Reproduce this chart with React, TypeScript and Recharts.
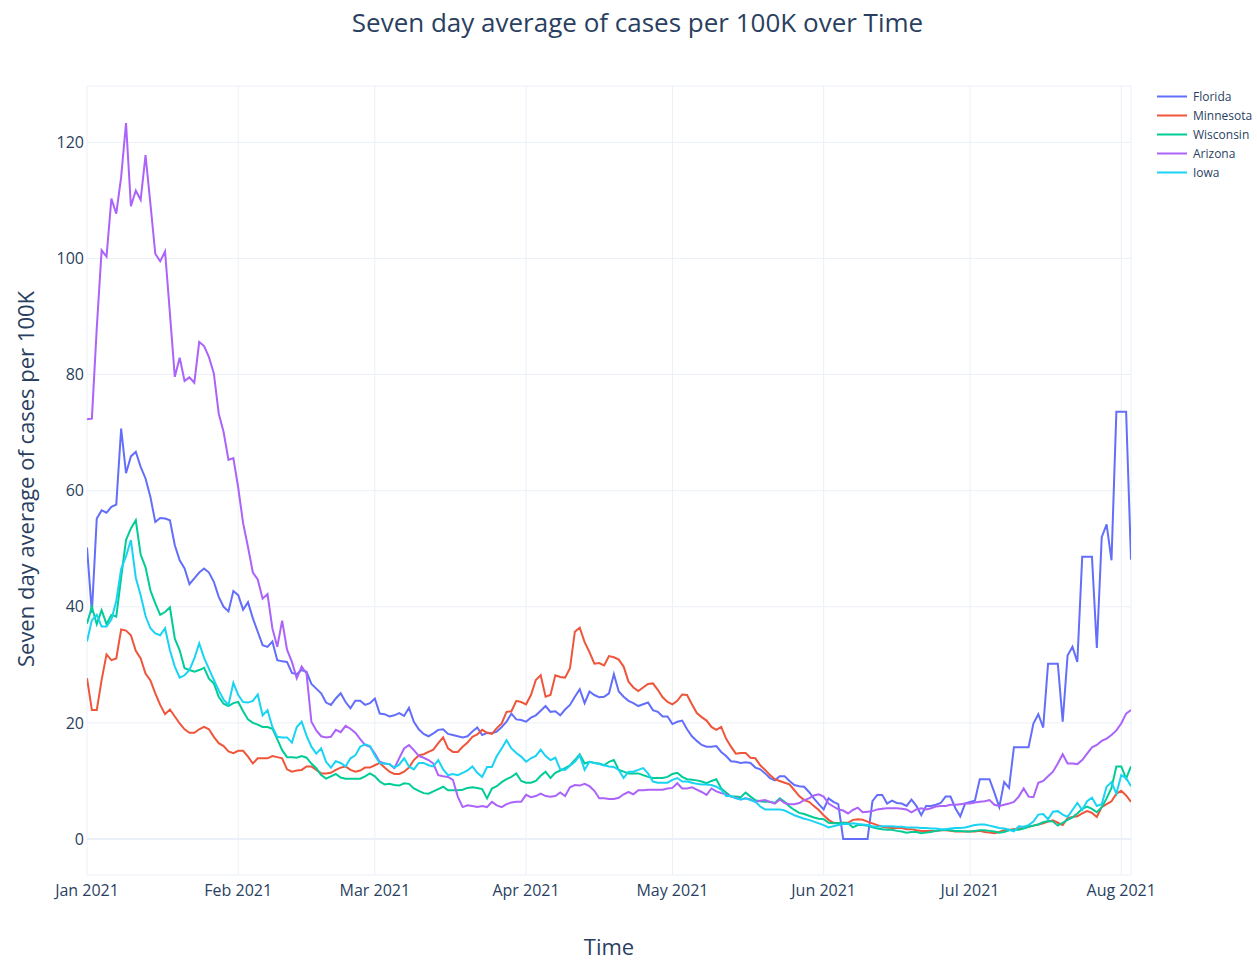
import React from "react";
import { LineChart, Line, XAxis, YAxis, CartesianGrid, ReferenceLine } from "recharts";

// Daily values, Jan 1 2021 (day 0) to Aug 3 2021 (day 214)
const FLORIDA = [
  50.2, 39.0, 55.2, 56.6, 56.2, 57.2, 57.6, 70.7, 63.0, 65.9, 66.7, 64.1, 62.1, 58.9, 54.6, 55.3, 55.2, 54.9, 50.6, 48.0,
  46.6, 43.9, 44.9, 45.9, 46.6, 45.9, 44.3, 41.7, 40.0, 39.2, 42.7, 42.0, 39.5, 40.8, 38.0, 35.7, 33.4, 33.1, 34.0, 30.8,
  30.6, 30.5, 28.6, 28.4, 29.1, 28.8, 26.7, 25.9, 25.1, 23.5, 23.1, 24.2, 25.1, 23.6, 22.5, 23.8, 23.8, 23.1, 23.4, 24.2,
  21.6, 21.5, 21.1, 21.3, 21.7, 21.2, 22.6, 20.2, 18.9, 18.1, 17.7, 18.2, 18.8, 18.9, 18.1, 17.9, 17.7, 17.5, 17.7, 18.5,
  19.2, 17.9, 18.3, 18.2, 18.5, 19.3, 20.2, 21.6, 20.6, 20.5, 20.2, 20.9, 21.3, 22.1, 22.9, 21.9, 22.0, 21.3, 22.3, 23.1,
  24.5, 25.8, 23.4, 25.4, 24.8, 24.4, 24.5, 25.1, 28.4, 25.4, 24.5, 23.8, 23.4, 22.9, 23.2, 23.5, 22.2, 21.9, 21.1, 21.1,
  19.8, 20.2, 20.4, 18.9, 17.7, 16.9, 16.2, 15.9, 15.9, 16.0, 15.0, 14.3, 13.4, 13.3, 13.1, 13.2, 13.1, 12.3, 12.0, 11.3,
  10.5, 10.1, 10.8, 10.8, 10.0, 9.3, 9.1, 9.0, 8.1, 7.0, 6.0, 5.1, 7.0, 6.4, 6.0, 0, 0, 0, 0, 0,
  0, 6.5, 7.6, 7.6, 6.1, 6.6, 6.2, 6.1, 5.7, 6.8, 5.7, 4.1, 5.7, 5.7, 5.9, 6.2, 7.3, 7.3, 5.3, 3.9,
  6.1, 6.4, 6.6, 10.3, 10.3, 10.3, 8.0, 5.5, 9.8, 8.8, 15.8, 15.8, 15.8, 15.8, 19.9, 21.5, 19.2, 30.2, 30.2, 30.2,
  20.2, 31.6, 33.1, 30.5, 48.6, 48.6, 48.6, 32.9, 52.0, 54.2, 48.0, 73.6, 73.6, 73.6, 48.1,
];

const MINNESOTA = [
  27.7, 22.2, 22.2, 27.4, 31.8, 30.8, 31.1, 36.1, 35.9, 35.1, 32.4, 31.1, 28.5, 27.3, 25.1, 23.1, 21.5, 22.3, 21.1, 19.9,
  18.9, 18.3, 18.3, 18.9, 19.3, 18.9, 17.6, 16.5, 16.0, 15.1, 14.8, 15.2, 15.2, 14.2, 13.0, 13.9, 13.9, 13.9, 14.3, 14.1,
  13.9, 12.0, 11.6, 11.8, 11.9, 12.5, 12.5, 11.9, 11.3, 11.3, 11.4, 11.9, 12.3, 12.5, 11.9, 11.6, 11.8, 12.3, 12.3, 12.7,
  13.1, 12.3, 11.6, 11.2, 11.2, 11.6, 12.3, 13.6, 14.4, 14.6, 15.0, 15.4, 16.5, 17.5, 15.6, 15.0, 15.0, 15.9, 16.6, 17.6,
  18.0, 18.8, 18.3, 18.1, 19.1, 19.9, 21.9, 22.0, 23.8, 23.6, 23.2, 24.8, 27.4, 28.2, 24.5, 24.8, 28.2, 27.9, 27.8, 29.4,
  35.7, 36.4, 33.9, 32.2, 30.2, 30.3, 29.9, 31.5, 31.3, 30.9, 29.7, 27.1, 26.1, 25.5, 26.1, 26.7, 26.8, 25.7, 24.4, 23.6,
  23.2, 23.8, 24.9, 24.8, 23.2, 21.7, 21.0, 20.4, 19.3, 18.8, 19.3, 17.3, 15.9, 14.7, 14.8, 14.8, 14.0, 13.9, 12.7, 11.9,
  11.0, 10.3, 10.0, 9.7, 9.4, 8.4, 7.4, 6.7, 6.4, 5.7, 5.0, 4.1, 3.3, 2.8, 2.7, 2.8, 2.8, 3.3, 3.4, 3.3,
  3.0, 2.7, 2.4, 2.1, 2.0, 1.9, 1.9, 1.9, 1.7, 1.7, 1.5, 1.4, 1.4, 1.4, 1.4, 1.5, 1.5, 1.4, 1.3, 1.3,
  1.3, 1.3, 1.3, 1.4, 1.2, 1.1, 1.0, 1.2, 1.5, 1.6, 1.7, 1.8, 1.9, 2.1, 2.3, 2.5, 2.7, 3.0, 3.2, 2.8,
  2.4, 3.6, 3.8, 3.9, 4.4, 4.8, 4.5, 3.8, 5.5, 6.0, 6.5, 7.8, 8.3, 7.5, 6.4,
];

const WISCONSIN = [
  37.1, 40.0, 37.0, 39.4, 37.0, 38.6, 38.3, 45.0, 51.5, 53.5, 54.9, 49.0, 46.8, 42.8, 40.6, 38.6, 39.1, 39.9, 34.5, 32.5,
  29.4, 29.1, 28.8, 29.1, 29.5, 27.6, 26.8, 24.5, 23.3, 22.9, 23.4, 23.6, 22.0, 20.6, 20.0, 19.7, 19.3, 19.3, 19.0, 17.2,
  15.3, 14.1, 14.1, 14.0, 14.3, 14.0, 13.0, 12.2, 11.0, 10.4, 10.8, 11.2, 10.6, 10.4, 10.4, 10.4, 10.4, 10.8, 11.3, 10.8,
  9.9, 9.4, 9.5, 9.3, 9.2, 9.6, 9.5, 8.7, 8.3, 7.9, 7.8, 8.2, 8.6, 9.0, 8.4, 8.4, 8.4, 8.5, 8.8, 8.9,
  8.8, 8.6, 7.0, 8.7, 9.1, 9.8, 10.3, 10.7, 11.3, 10.0, 9.7, 9.7, 10.0, 10.9, 11.6, 10.5, 11.4, 11.8, 12.2, 12.7,
  13.6, 14.6, 13.0, 13.3, 13.1, 13.0, 12.7, 13.3, 13.6, 11.9, 11.6, 11.3, 11.3, 11.3, 11.0, 10.7, 10.5, 10.5, 10.5, 10.7,
  11.2, 11.4, 10.7, 10.3, 10.2, 10.1, 9.9, 9.6, 10.0, 10.3, 8.7, 8.0, 7.3, 7.3, 7.2, 8.0, 7.3, 6.7, 6.5, 6.4,
  6.4, 6.2, 7.0, 6.4, 5.6, 5.0, 4.5, 4.3, 4.0, 3.7, 3.5, 3.4, 2.8, 2.7, 2.7, 2.8, 2.7, 2.0, 2.4, 2.4,
  2.3, 2.0, 1.8, 1.7, 1.6, 1.6, 1.4, 1.3, 1.1, 1.2, 1.2, 1.0, 1.1, 1.2, 1.4, 1.5, 1.6, 1.5, 1.4, 1.4,
  1.3, 1.3, 1.4, 1.5, 1.5, 1.4, 1.3, 1.1, 1.2, 1.5, 1.6, 1.6, 1.8, 2.1, 2.3, 2.5, 2.9, 3.1, 3.0, 2.3,
  2.8, 3.3, 3.7, 4.4, 5.2, 5.6, 5.2, 4.6, 5.5, 7.0, 8.8, 12.5, 12.5, 10.4, 12.5,
];

const ARIZONA = [
  72.3, 72.4, 88.0, 101.4, 100.3, 110.3, 107.7, 114.0, 123.3, 109.0, 111.7, 110.1, 117.8, 109.4, 100.8, 99.5, 101.2, 90.5, 79.6, 82.9,
  78.9, 79.5, 78.6, 85.6, 84.9, 83.0, 80.2, 73.3, 70.1, 65.3, 65.6, 60.5, 54.4, 50.3, 45.9, 44.7, 41.4, 42.2, 36.3, 33.1,
  37.6, 32.6, 30.5, 27.7, 29.7, 28.5, 20.2, 18.7, 17.7, 17.5, 17.6, 18.8, 18.4, 19.5, 19.0, 18.3, 17.2, 16.2, 15.9, 14.7,
  13.3, 13.0, 12.9, 12.2, 13.9, 15.6, 16.2, 15.3, 14.3, 14.0, 13.6, 13.0, 11.0, 10.8, 10.7, 10.2, 7.3, 5.5, 5.8, 5.7,
  5.5, 5.7, 5.5, 6.4, 5.8, 5.5, 6.0, 6.3, 6.4, 6.4, 7.6, 7.2, 7.4, 7.8, 7.4, 7.3, 7.4, 8.0, 7.4, 8.9,
  9.3, 9.2, 9.5, 9.1, 8.3, 7.0, 7.0, 6.9, 6.9, 7.1, 7.7, 8.1, 7.7, 8.4, 8.4, 8.5, 8.5, 8.5, 8.5, 8.7,
  8.8, 9.6, 8.7, 8.7, 8.9, 8.5, 8.1, 7.6, 8.7, 8.2, 7.9, 7.7, 7.3, 7.1, 6.8, 7.0, 6.8, 6.4, 6.6, 6.7,
  6.4, 6.1, 6.8, 6.2, 6.0, 6.0, 6.2, 6.7, 7.0, 7.5, 7.7, 7.3, 6.1, 5.6, 5.1, 4.9, 4.4, 5.0, 5.4, 4.6,
  4.7, 4.8, 5.1, 5.2, 5.3, 5.3, 5.3, 5.2, 5.1, 4.6, 5.1, 5.3, 5.1, 5.3, 5.6, 5.7, 5.7, 5.9, 5.9, 6.0,
  6.1, 6.1, 6.3, 6.4, 6.5, 6.7, 5.9, 5.7, 5.9, 6.1, 6.4, 7.3, 8.7, 7.3, 7.2, 9.7, 10.0, 10.8, 11.6, 13.0,
  14.6, 13.0, 13.0, 12.9, 13.6, 14.7, 15.8, 16.2, 16.9, 17.3, 17.9, 18.7, 19.9, 21.6, 22.2,
];

const IOWA = [
  34.0, 37.7, 38.6, 36.6, 36.6, 37.8, 41.0, 46.5, 48.7, 51.5, 45.0, 42.0, 38.4, 36.3, 35.4, 35.1, 36.3, 32.5, 29.7, 27.8,
  28.2, 29.1, 31.1, 33.7, 31.2, 29.3, 27.4, 25.6, 24.0, 23.1, 26.9, 24.8, 23.6, 23.5, 23.8, 24.9, 21.3, 22.2, 19.3, 17.6,
  17.5, 17.5, 16.6, 19.3, 20.2, 17.8, 15.9, 14.7, 15.6, 13.3, 12.3, 13.4, 13.1, 12.5, 13.9, 14.4, 15.9, 16.3, 16.0, 14.4,
  13.1, 13.0, 12.9, 12.3, 12.8, 13.9, 12.5, 12.0, 13.1, 13.1, 12.7, 12.5, 13.6, 12.0, 11.0, 11.2, 11.0, 11.4, 11.8, 12.5,
  11.4, 10.7, 12.4, 12.4, 14.3, 15.6, 17.0, 15.6, 14.8, 14.2, 13.3, 13.9, 14.3, 15.4, 14.3, 13.6, 14.0, 12.0, 11.9, 12.6,
  13.3, 14.4, 11.9, 13.3, 13.1, 12.9, 12.7, 12.5, 12.4, 11.9, 10.5, 11.6, 11.6, 11.9, 12.2, 11.3, 9.9, 9.7, 9.7, 9.7,
  10.2, 10.5, 9.9, 9.9, 9.7, 9.5, 9.4, 9.4, 9.3, 9.0, 8.5, 7.4, 7.4, 7.0, 6.8, 7.0, 6.7, 6.4, 5.6, 5.1,
  5.1, 5.1, 5.1, 4.9, 4.5, 4.1, 3.8, 3.5, 3.3, 3.0, 2.7, 2.4, 2.0, 2.2, 2.4, 2.6, 2.6, 2.7, 2.6, 2.5,
  2.4, 2.2, 2.1, 2.2, 2.2, 2.2, 2.1, 2.1, 2.0, 2.0, 2.0, 1.9, 1.9, 1.8, 1.8, 1.7, 1.7, 1.8, 1.9, 1.9,
  2.0, 2.2, 2.4, 2.5, 2.5, 2.3, 2.1, 1.9, 1.8, 1.6, 1.3, 2.2, 2.1, 2.4, 3.0, 4.2, 4.3, 3.4, 4.7, 4.8,
  4.2, 3.8, 5.0, 6.2, 5.0, 6.5, 7.1, 5.7, 6.0, 9.0, 9.8, 7.8, 11.0, 10.5, 9.1,
];

const START_DATE = "2021-01-01";
const MONTH_TICKS = [0, 31, 59, 90, 120, 151, 181, 212];
const MONTH_LABELS = ["Jan 2021", "Feb 2021", "Mar 2021", "Apr 2021", "May 2021", "Jun 2021", "Jul 2021", "Aug 2021"];
const Y_TICKS = [0, 20, 40, 60, 80, 100, 120];

const SERIES = [
  { key: "Florida", values: FLORIDA, color: "#636efa" },
  { key: "Minnesota", values: MINNESOTA, color: "#EF553B" },
  { key: "Wisconsin", values: WISCONSIN, color: "#00cc96" },
  { key: "Arizona", values: ARIZONA, color: "#ab63fa" },
  { key: "Iowa", values: IOWA, color: "#19d3f3" },
];

const start = new Date(START_DATE + "T00:00:00Z").getTime();
const data = FLORIDA.map((_, i) => {
  const row: Record<string, number | string> = {
    day: i,
    date: new Date(start + i * 86400000).toISOString().slice(0, 10),
  };
  SERIES.forEach((s) => {
    row[s.key] = s.values[i];
  });
  return row;
});

const FONT = "'Open Sans', 'Noto Sans', sans-serif";
const TEXT = "#2a3f5f";
const GRID = "#EBF0F8";

export default function App() {
  return (
    <div
      style={{
        position: "fixed",
        top: 0,
        left: 0,
        width: 1257,
        height: 960,
        overflow: "hidden",
        background: "#fff",
        fontFamily: FONT,
      }}
    >
      <LineChart
        width={1257}
        height={960}
        data={data}
        margin={{ top: 86, right: 126, bottom: 45, left: 27 }}
      >
        <CartesianGrid stroke={GRID} strokeWidth={1} />
        <XAxis
          dataKey="day"
          type="number"
          domain={[0, 214]}
          ticks={MONTH_TICKS}
          interval={0}
          allowDataOverflow
          height={40}
          axisLine={false}
          tickLine={false}
          tickSize={0}
          tickMargin={10}
          tickFormatter={(v: number) => MONTH_LABELS[MONTH_TICKS.indexOf(v)]}
          tick={{ fill: TEXT, fontSize: 16, fontFamily: FONT }}
        />
        <YAxis
          type="number"
          domain={[-6.2, 129.7]}
          ticks={Y_TICKS}
          interval={0}
          allowDataOverflow
          width={60}
          axisLine={false}
          tickLine={false}
          tickSize={0}
          tickMargin={3}
          tick={{ fill: TEXT, fontSize: 16, fontFamily: FONT }}
        />
        <ReferenceLine y={0} stroke={GRID} strokeWidth={2} />
        {SERIES.map((s) => (
          <Line
            key={s.key}
            type="linear"
            dataKey={s.key}
            stroke={s.color}
            strokeWidth={2}
            dot={false}
            activeDot={false}
            isAnimationActive={false}
          />
        ))}
      </LineChart>

      <div
        style={{
          position: "absolute",
          top: 5,
          left: 0,
          width: 1257,
          textAlign: "center",
          fontSize: 26,
          color: TEXT,
          paddingLeft: 18,
          boxSizing: "border-box",
          lineHeight: "34px",
          whiteSpace: "nowrap",
        }}
      >
        Seven day average of cases per 100K over Time
      </div>

      <div
        style={{
          position: "absolute",
          left: 509,
          width: 200,
          top: 931,
          textAlign: "center",
          fontSize: 22,
          color: TEXT,
          lineHeight: "30px",
        }}
      >
        Time
      </div>

      <div
        style={{
          position: "absolute",
          left: 25 - 250,
          top: 479 - 15,
          width: 500,
          textAlign: "center",
          fontSize: 22,
          color: TEXT,
          lineHeight: "30px",
          whiteSpace: "nowrap",
          transform: "rotate(-90deg)",
        }}
      >
        Seven day average of cases per 100K
      </div>

      <div style={{ position: "absolute", left: 1157, top: 87, width: 100 }}>
        {SERIES.map((s) => (
          <div key={s.key} style={{ display: "flex", alignItems: "center", height: 19, whiteSpace: "nowrap" }}>
            <svg width={31} height={19} style={{ display: "block", flex: "none" }}>
              <line x1={0} y1={9.5} x2={30} y2={9.5} stroke={s.color} strokeWidth={2} />
            </svg>
            <span style={{ fontSize: 12, color: TEXT, marginLeft: 5, lineHeight: "19px" }}>{s.key}</span>
          </div>
        ))}
      </div>
    </div>
  );
}
